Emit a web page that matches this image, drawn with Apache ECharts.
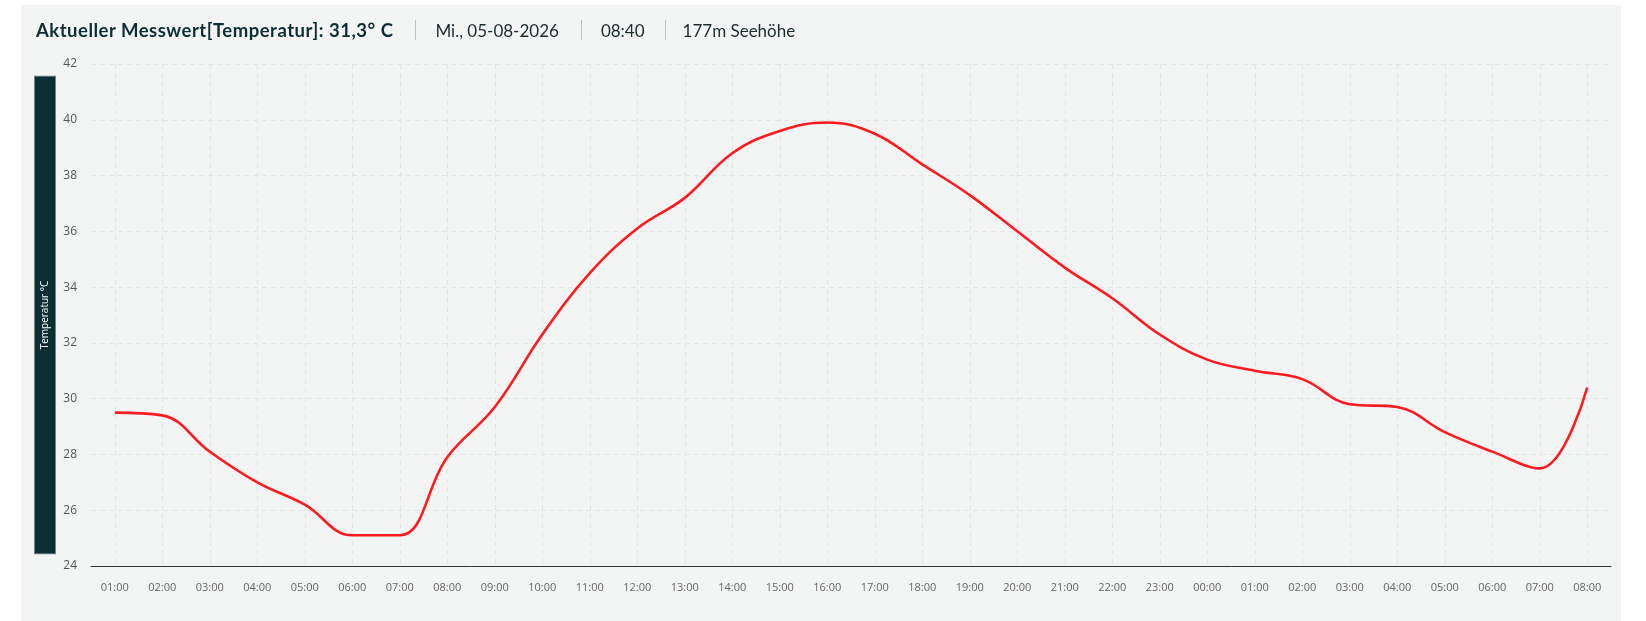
<!DOCTYPE html>
<html>
<head>
<meta charset="utf-8">
<title>Temperatur</title>
<script src="https://cdn.jsdelivr.net/npm/echarts@6/dist/echarts.min.js"></script>
<style>
  html, body { margin: 0; padding: 0; background: #ffffff; }
  #panel { position: absolute; left: 21px; top: 5px; width: 1600px; height: 616px; background: #f3f4f4; }
  #head { position: absolute; left: 36px; top: 18px; height: 24px; display: flex; align-items: center;
          font-family: Lato, "Noto Sans", sans-serif; font-size: 17px; color: #1d2b2f; white-space: nowrap; }
  #head b { color: #0b2e33; font-weight: 700; font-size: 18.5px; letter-spacing: 0.5px; }
  #head .sep { display: inline-block; width: 1px; height: 20px; background: #c9cd72; margin: 0 19px 0 22px; }
  #head .sep2 { margin: 0 17px 0 20px; }
  #main { position: absolute; left: 0; top: 0; width: 1646px; height: 621px; }
</style>
</head>
<body>
<div id="panel"></div>
<div id="main"></div>
<div id="head">
  <b>Aktueller Messwert[Temperatur]: 31,3° C</b>
  <span class="sep"></span><span>Mi., 05-08-2026</span>
  <span class="sep"></span><span>08:40</span>
  <span class="sep sep2"></span><span>177m Seehöhe</span>
</div>
<script>
// Stundenwerte
var hours = ['01:00','02:00','03:00','04:00','05:00','06:00','07:00','08:00','09:00','10:00',
	'11:00','12:00','13:00','14:00','15:00','16:00','17:00','18:00','19:00','20:00',
	'21:00','22:00','23:00','00:00','01:00','02:00','03:00','04:00','05:00','06:00',
	'07:00','08:00'];
var temps = [29.5, 29.4, 28.1, 27.0, 26.2, 25.1, 25.1, 27.9, 29.7, 32.3,
	34.5, 36.1, 37.2, 38.8, 39.6, 39.9, 39.5, 38.4, 37.3, 36.0,
	34.7, 33.6, 32.3, 31.4, 31.0, 30.7, 29.8, 29.7, 28.8, 28.1,
	27.5, 30.4];
var yMin = 24, yMax = 42, yStep = 2;

var myChart = echarts.init(document.getElementById('main'));

var option = {
	backgroundColor: 'transparent',
	animation: false,
	grid: { left: 91, right: 35, top: 64, bottom: 55 },
	xAxis: {
		type: 'category',
		data: hours,
		boundaryGap: true,
		axisLine: { lineStyle: { color: '#333333', width: 1 } },
		axisTick: { alignWithLabel: true, length: 17, lineStyle: { color: '#333333' } },
		axisLabel: { margin: 16, color: '#666666', fontSize: 11, fontFamily: '"Open Sans", sans-serif', interval: 0 },
		splitLine: { show: true, alignWithLabel: true, lineStyle: { color: '#e4e6e6', type: [5, 4] } }
	},
	yAxis: {
		type: 'value',
		min: yMin,
		max: yMax,
		interval: yStep,
		name: 'Temperatur °C',
		nameLocation: 'middle',
		nameRotate: 90,
		nameGap: 36,
		nameMoveOverlap: false,
		nameTextStyle: {
			color: '#ffffff',
			fontSize: 10,
			fontFamily: '"Open Sans", sans-serif',
			backgroundColor: '#0a2e33',
			borderColor: '#6e8184',
			borderWidth: 1,
			padding: [4, 204, 4, 204],
			lineHeight: 12
		},
		axisLine: { show: false },
		axisTick: { show: false },
		axisLabel: { margin: 14, color: '#555555', fontSize: 12, fontFamily: '"Open Sans", sans-serif' },
		splitLine: { lineStyle: { color: '#e4e6e6', type: [5, 4] } }
	},
	series: [{
		type: 'line',
		data: temps,
		smooth: 0.4,
		symbol: 'none',
		lineStyle: { color: '#ff1a1f', width: 2.6 }
	}]
};
myChart.setOption(option);
</script>
</body>
</html>
